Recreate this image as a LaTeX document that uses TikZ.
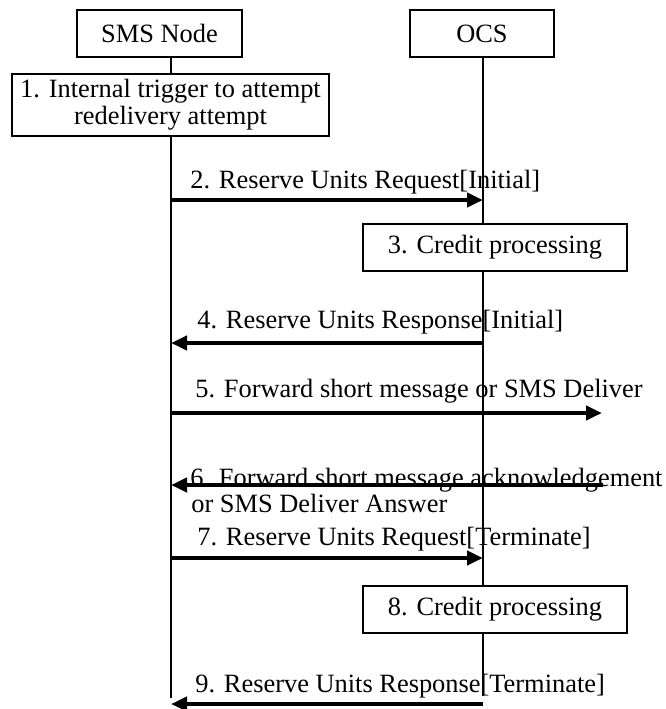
\documentclass[tikz,border=0pt]{standalone}
\usepackage{fontspec}
\setmainfont{Liberation Serif}
\usetikzlibrary{arrows.meta}
\newcommand{\SmsX}{171}
\newcommand{\OcsX}{483}

\begin{document}
\begin{tikzpicture}[x=0.5pt,y=-0.5pt,
  box/.style={draw, line width=1pt, fill=white, inner sep=1pt, align=center,
    font=\fontsize{13.2pt}{13.5pt}\selectfont},
  msg/.style={inner sep=0pt, anchor=base west, font=\fontsize{13.2pt}{13.5pt}\selectfont},
  life/.style={line width=0.75pt},
  arr/.style={line width=2pt, -{Triangle[length=8pt,width=7pt]}}]

\useasboundingbox (0,0) rectangle (666,709);

\node[box, minimum width=82.5pt, minimum height=23.5pt] (sms) at (159.5,33.5) {SMS Node};
\node[box, minimum width=72pt, minimum height=23.5pt] (ocs) at (482,33.5) {OCS};
\node[box, minimum width=158.5pt, minimum height=31pt] (trig) at (170.5,105) {1. Internal trigger to attempt\\redelivery attempt};
\node[box, minimum width=132pt, minimum height=23.5pt] (cp1) at (495,247.5) {3. Credit processing};
\node[box, minimum width=132pt, minimum height=23.5pt] (cp2) at (495,609.5) {8. Credit processing};

% lifelines
\coordinate (send) at (\SmsX,698);
\coordinate (oend) at (\OcsX,696);
\draw[life] (sms.south -| send) -- (trig.north -| send);
\draw[life] (trig.south -| send) -- (send);
\draw[life] (ocs.south -| oend) -- (cp1.north -| oend);
\draw[life] (cp1.south -| oend) -- (cp2.north -| oend);
\draw[life] (cp2.south -| oend) -- (oend);

% messages
\coordinate (s2) at (\SmsX,200);
\coordinate (o2) at (\OcsX,200);
\draw[arr] (s2) -- (o2);
\node[msg] (m2) at (190,188) {2. Reserve Units Request[Initial]};

\coordinate (s4) at (\SmsX,343);
\coordinate (o4) at (\OcsX,343);
\draw[arr] (o4) -- (s4);
\node[msg] (m4) at (197,328) {4. Reserve Units Response[Initial]};

\coordinate (s5) at (\SmsX,413);
\coordinate (far5) at (602,413);
\draw[arr] (s5) -- (far5);
\node[msg] (m5) at (195,397) {5. Forward short message or SMS Deliver};

\coordinate (far6) at (603,485);
\coordinate (s6) at (\SmsX,485);
\draw[arr] (far6) -- (s6);
\node[msg] (m6) at (190,486) {6. Forward short message acknowledgement};
\node[msg] (m6b) at (191,512) {or SMS Deliver Answer};

\coordinate (s7) at (\SmsX,558);
\coordinate (o7) at (\OcsX,558);
\draw[arr] (s7) -- (o7);
\node[msg] (m7) at (197,545) {7. Reserve Units Request[Terminate]};

\coordinate (o9) at (\OcsX,704);
\coordinate (s9) at (\SmsX,704);
\draw[arr] (o9) -- (s9);
\node[msg] (m9) at (195,692) {9. Reserve Units Response[Terminate]};

\end{tikzpicture}
\end{document}
